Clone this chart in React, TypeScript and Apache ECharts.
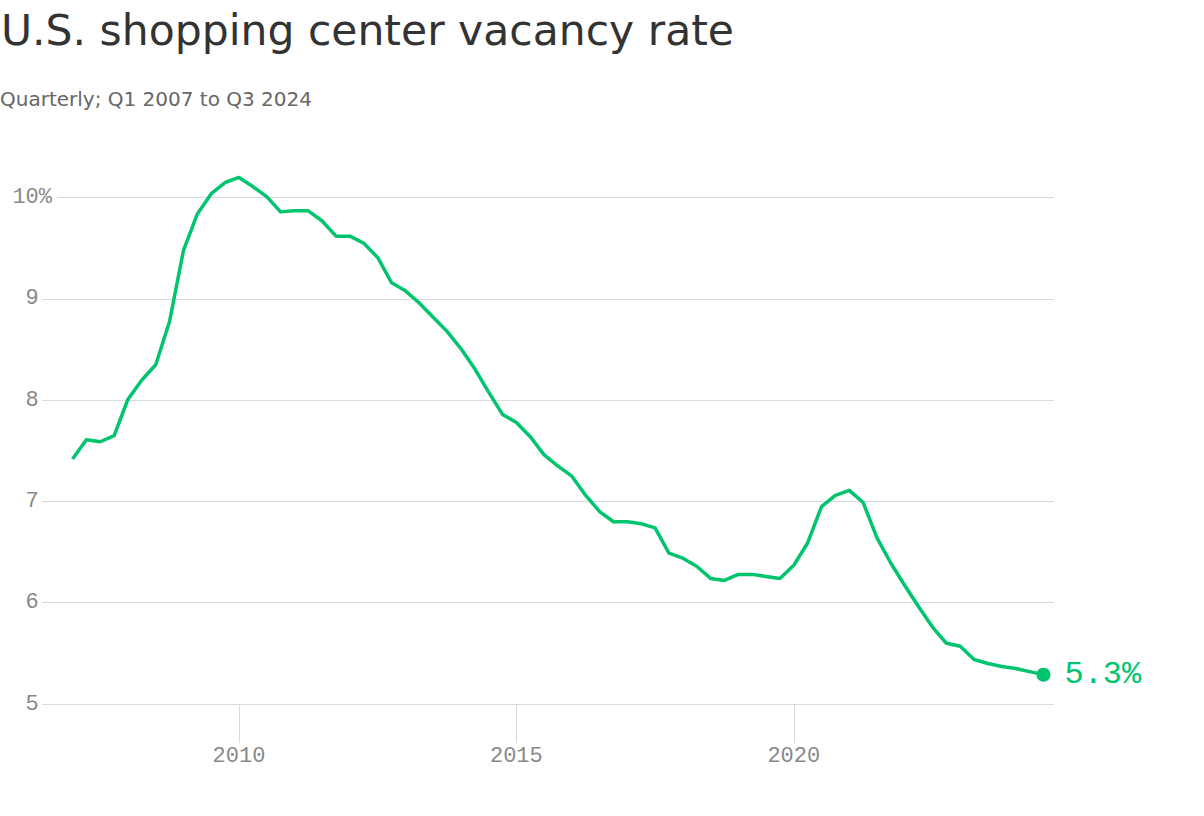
import React, { useEffect, useRef } from "react";
import * as echarts from "echarts";

const startYear = 2007;
// Quarterly vacancy rate (%), Q1 2007 .. Q3 2024
const vacancy: number[] = [
  7.42, 7.61, 7.59, 7.65, 8.01, 8.2, 8.35, 8.78, 9.48, 9.84,
  10.04, 10.15, 10.2, 10.11, 10.01, 9.86, 9.87, 9.87, 9.77, 9.62,
  9.62, 9.55, 9.41, 9.16, 9.08, 8.96, 8.82, 8.68, 8.51, 8.31,
  8.08, 7.86, 7.78, 7.64, 7.46, 7.35, 7.25, 7.06, 6.9, 6.8,
  6.8, 6.78, 6.74, 6.49, 6.44, 6.36, 6.24, 6.22, 6.28, 6.28,
  6.26, 6.24, 6.37, 6.59, 6.95, 7.06, 7.11, 6.99, 6.64, 6.39,
  6.17, 5.96, 5.76, 5.6, 5.57, 5.44, 5.4, 5.37, 5.35, 5.32, 5.29,
];
const xTickYears: number[] = [2010, 2015, 2020];
const yTicks: number[] = [5, 6, 7, 8, 9, 10];

const TITLE = "U.S. shopping center vacancy rate";
const SUBTITLE = "Quarterly; Q1 2007 to Q3 2024";

const GREEN = "#00c46e";
const GRID = "#d9d9d9";
const MONO = "'Liberation Mono', 'DejaVu Sans Mono', monospace";
const SANS = "'DejaVu Sans', Inter, sans-serif";

export default function App() {
  const ref = useRef<HTMLDivElement>(null);
  useEffect(() => {
    if (!ref.current) return;
    const chart = echarts.init(ref.current, null, { renderer: "svg" });
    const points = vacancy.map((v, i) => [startYear + i * 0.25, v]);
    const last = points[points.length - 1];
    const yMin = yTicks[0];
    const yMax = yTicks[yTicks.length - 1];
    chart.setOption({
      animation: false,
      backgroundColor: "#fff",
      title: [
        {
          text: TITLE,
          left: 1,
          top: 9,
          padding: 0,
          textStyle: { fontFamily: SANS, fontSize: 42.5, fontWeight: 400, color: "#333" },
        },
        {
          text: SUBTITLE,
          left: 0,
          top: 89,
          padding: 0,
          textStyle: { fontFamily: SANS, fontSize: 20, fontWeight: 400, color: "#666" },
        },
      ],
      grid: { left: 42, right: 150, top: 197.7, bottom: 112, containLabel: false, outerBoundsMode: "none" },
      xAxis: {
        type: "value",
        min: 2006.45,
        max: 2024.69,
        axisLine: { show: false },
        splitLine: { show: false },
        axisTick: {
          show: true,
          customValues: xTickYears,
          length: 39,
          lineStyle: { color: GRID, width: 1 },
        },
        axisLabel: {
          show: true,
          customValues: xTickYears,
          formatter: (v: number) => String(v),
          margin: 41,
          color: "#888",
          fontFamily: MONO,
          fontSize: 22,
        },
      },
      yAxis: [
        {
          type: "value",
          min: yMin,
          max: yMax,
          interval: 1,
          axisLine: { show: false },
          axisTick: { show: false },
          axisLabel: { show: false },
          splitLine: { show: true, lineStyle: { color: GRID, width: 1 } },
        },
        {
          type: "value",
          position: "left",
          min: yMin,
          max: yMax,
          interval: 1,
          z: 3,
          axisLine: { show: false },
          axisTick: { show: false },
          splitLine: { show: false },
          axisLabel: {
            show: true,
            align: "right",
            margin: -15,
            color: "#888",
            fontFamily: MONO,
            fontSize: 22,
            formatter: (v: number) =>
              v === yMax ? `{n|${v}}{p|%}` : `{n|${v}}{h|%}`,
            rich: {
              n: { color: "#888", fontFamily: MONO, fontSize: 22 },
              p: {
                color: "#888",
                fontFamily: MONO,
                fontSize: 22,
                backgroundColor: "#fff",
                padding: [4, 5, 4, 0],
              },
              h: {
                color: "rgba(0,0,0,0)",
                fontFamily: MONO,
                fontSize: 22,
                padding: [4, 5, 4, 0],
              },
            },
          },
        },
      ],
      series: [
        {
          type: "line",
          data: points,
          yAxisIndex: 0,
          showSymbol: false,
          clip: false,
          lineStyle: { color: GREEN, width: 3.5, join: "round" },
          itemStyle: { color: GREEN },
          z: 4,
        },
        {
          type: "scatter",
          data: [last],
          yAxisIndex: 0,
          symbol: "circle",
          symbolSize: 14,
          clip: false,
          itemStyle: { color: GREEN, opacity: 1 },
          z: 5,
          label: {
            show: true,
            position: "right",
            distance: 14,
            formatter: (p: any) => `${p.value[1].toFixed(1)}%`,
            color: GREEN,
            opacity: 1,
            fontFamily: MONO,
            fontSize: 32,
          },
        },
      ],
    });
    return () => chart.dispose();
  }, []);
  return (
    <div
      ref={ref}
      style={{ position: "fixed", left: 0, top: 0, width: 1204, height: 816 }}
    />
  );
}
